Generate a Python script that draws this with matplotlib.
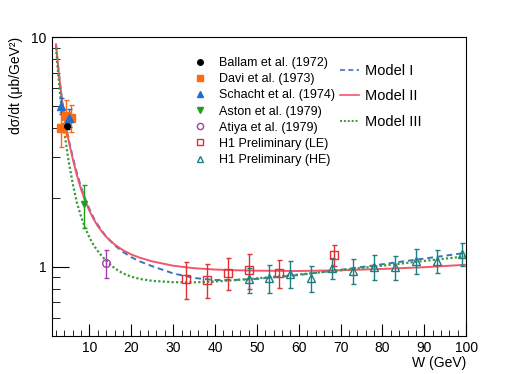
import numpy as np
import matplotlib
matplotlib.use('Agg')
import matplotlib.pyplot as plt
from matplotlib.lines import Line2D
from matplotlib.ticker import FixedLocator, NullFormatter, FixedFormatter

plt.rcParams['font.family'] = ['Liberation Sans', 'DejaVu Sans']

# --- data (W in GeV, dsigma/dt in mub/GeV^2) ---
ballam_w = [4.7]
ballam_y = [4.09]
ballam_e = [0.1]

davi_w = [3.2, 4.4, 5.6]
davi_y = [4.02, 4.52, 4.45]
davi_e = [0.7, 0.8, 0.6]

schacht_w = [3.2, 5.1]
schacht_y = [5.03, 4.45]
schacht_e = [0.4, 0.4]

aston_w = [8.8]
aston_y = [1.87]
aston_e = [0.39]

atiya_w = [14.0]
atiya_y = [1.04]
atiya_e = [0.145]

h1le_w = [33, 38, 43, 48, 55.3, 68.3]
h1le_y = [0.887, 0.878, 0.939, 0.97, 0.94, 1.127]
h1le_e = [0.16, 0.147, 0.15, 0.17, 0.13, 0.12]

h1he_w = [48, 53, 58, 63, 68, 73, 78, 83, 88, 93, 99]
h1he_y = [0.881, 0.894, 0.930, 0.894, 0.988, 0.958, 0.997, 0.997, 1.062, 1.062, 1.141]
h1he_e = [0.11, 0.125, 0.125, 0.115, 0.10, 0.12, 0.125, 0.12, 0.13, 0.125, 0.13]

model_w = [2, 2.5, 3, 3.5, 4, 5, 6, 7, 8, 9, 10, 11, 12, 13, 14, 16, 18, 20, 22, 25,
           30, 35, 40, 45, 50, 60, 70, 80, 90, 100]
model1 = [9.3, 7.5, 6.2, 5.2, 4.5, 3.6, 3.0, 2.56, 2.22, 1.97, 1.78, 1.63, 1.52, 1.43,
          1.35, 1.24, 1.16, 1.10, 1.055, 1.005, 0.935, 0.893, 0.875, 0.876, 0.885,
          0.92, 0.97, 1.025, 1.085, 1.15]
model2 = [9.3, 7.5, 6.2, 5.2, 4.5, 3.55, 2.95, 2.5, 2.17, 1.93, 1.75, 1.61, 1.50, 1.42,
          1.35, 1.25, 1.18, 1.13, 1.095, 1.055, 1.01, 0.985, 0.972, 0.965, 0.961,
          0.958, 0.965, 0.978, 0.995, 1.02]
model3 = [9.0, 7.0, 5.6, 4.6, 3.85, 2.9, 2.3, 1.9, 1.65, 1.47, 1.34, 1.24, 1.17, 1.11,
          1.06, 0.985, 0.935, 0.905, 0.885, 0.868, 0.856, 0.855, 0.862, 0.875, 0.89,
          0.925, 0.965, 1.01, 1.06, 1.11]

fig = plt.figure(figsize=(5.18, 3.74), dpi=100)
ax = fig.add_axes([0.1, 0.102, 0.8, 0.799])

ax.plot(model_w, model1, color='#3c74bc', ls=(0, (3, 2)), lw=1.4)
ax.plot(model_w, model2, color='#f2556e', ls='-', lw=1.4)
ax.plot(model_w, model3, color='#3a9a3a', ls=(0, (1, 1)), lw=1.6)

def pts(w, y, e, marker, color, filled, ms):
    ax.errorbar(w, y, yerr=e, fmt=marker, color=color, ecolor=color, elinewidth=1,
                capsize=1.8, capthick=1, ms=ms,
                mfc=color if filled else 'none', mec=color, mew=1)

pts(davi_w, davi_y, davi_e, 's', '#ff6a10', True, 5.5)
pts(schacht_w, schacht_y, schacht_e, '^', '#1f6fd0', True, 5.5)
pts(ballam_w, ballam_y, ballam_e, 'o', 'black', True, 4)
pts(aston_w, aston_y, aston_e, 'v', '#1ea01e', True, 5)
pts(atiya_w, atiya_y, atiya_e, 'o', '#a040a8', False, 5.5)
pts(h1le_w, h1le_y, h1le_e, 's', '#e03036', False, 6)
pts(h1he_w, h1he_y, h1he_e, '^', '#1f7f80', False, 6)

ax.set_yscale('log')
ax.set_xlim(1, 100)
ax.set_ylim(0.5, 10)

ax.xaxis.set_major_locator(FixedLocator(np.arange(10, 101, 10)))
ax.xaxis.set_minor_locator(FixedLocator(np.arange(2, 100, 2)))
ax.yaxis.set_major_locator(FixedLocator([1, 10]))
ax.yaxis.set_major_formatter(FixedFormatter(['1', '10']))
ax.yaxis.set_minor_locator(FixedLocator([0.6, 0.7, 0.8, 0.9, 2, 3, 4, 5, 6, 7, 8, 9]))
ax.yaxis.set_minor_formatter(NullFormatter())

ax.tick_params(which='both', direction='in', top=False, right=False, labelsize=10)
ax.tick_params(axis='x', which='major', length=9, pad=4)
ax.tick_params(axis='x', which='minor', length=4.5)
ax.tick_params(axis='y', which='major', length=12, pad=4)
ax.tick_params(axis='y', which='minor', length=6)

ax.set_xlabel('W (GeV)', loc='right', fontsize=10, labelpad=0.5)
ax.set_ylabel('dσ/dt (μb/GeV²)', loc='top', fontsize=10, labelpad=6)

data_handles = [
    Line2D([], [], ls='none', marker='o', color='black', ms=4),
    Line2D([], [], ls='none', marker='s', color='#ff6a10', ms=4),
    Line2D([], [], ls='none', marker='^', color='#1f6fd0', ms=4),
    Line2D([], [], ls='none', marker='v', color='#1ea01e', ms=4),
    Line2D([], [], ls='none', marker='o', mfc='none', mec='#a040a8', ms=4.5),
    Line2D([], [], ls='none', marker='s', mfc='none', mec='#e03036', ms=4.5),
    Line2D([], [], ls='none', marker='^', mfc='none', mec='#1f7f80', ms=4.5),
]
data_labels = ['Ballam et al. (1972)', 'Davi et al. (1973)', 'Schacht et al. (1974)',
               'Aston et al. (1979)', 'Atiya et al. (1979)', 'H1 Preliminary (LE)',
               'H1 Preliminary (HE)']
leg1 = fig.legend(data_handles, data_labels, loc='upper left',
                  bbox_to_anchor=(0.372, 0.847), frameon=False, fontsize=9,
                  handlelength=1.2, handletextpad=0.9, labelspacing=0.33,
                  borderpad=0, borderaxespad=0)

model_handles = [
    Line2D([], [], color='#3c74bc', ls=(0, (3, 2)), lw=1.2),
    Line2D([], [], color='#f2556e', ls='-', lw=1.2),
    Line2D([], [], color='#3a9a3a', ls=(0, (1, 1)), lw=1.4),
]
leg2 = fig.legend(model_handles, ['Model I', 'Model II', 'Model III'], loc='upper left',
                  bbox_to_anchor=(0.656, 0.829), frameon=False, fontsize=10.5,
                  handlelength=1.3, handletextpad=0.4, labelspacing=0.78,
                  borderpad=0, borderaxespad=0)

fig.savefig('out.png', dpi=100)
